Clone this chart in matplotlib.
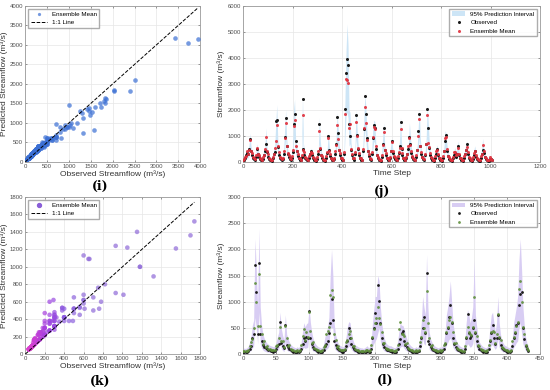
import numpy as np
import matplotlib
matplotlib.use("Agg")
import matplotlib.pyplot as plt
from matplotlib.colors import LinearSegmentedColormap

# ---- panel (j): time series, sampled every 4 time steps ----
step_j = 4
obs_j = [60, 90, 150, 250, 350, 300, 480, 870, 420, 250,
         150, 100, 70, 200, 480, 300, 180, 110, 70, 60,
         120, 250, 400, 700, 380, 200, 120, 80, 60, 50,
         140, 300, 380, 1580, 1600, 560, 280, 160, 100, 70,
         120, 300, 950, 1700, 600, 320, 180, 110, 70, 150,
         380, 1450, 1850, 820, 400, 220, 130, 80, 60, 200,
         2400, 500, 280, 160, 100, 70, 60, 150, 300, 420,
         250, 150, 90, 60, 50, 120, 300, 1470, 500, 260,
         150, 90, 60, 50, 150, 350, 1000, 450, 220, 130,
         80, 60, 100, 300, 700, 1720, 1100, 450, 250, 140,
         90, 60, 300, 2020, 3430, 3950, 3730, 1450, 1010, 450,
         250, 140, 80, 300, 1800, 1040, 500, 260, 140, 80,
         60, 400, 1250, 2520, 1830, 900, 400, 220, 120, 70,
         300, 900, 1420, 1300, 500, 260, 140, 80, 60, 50,
         200, 700, 1320, 450, 250, 140, 80, 60, 150, 400,
         800, 350, 200, 120, 70, 60, 150, 350, 600, 1520,
         500, 260, 140, 80, 60, 130, 300, 500, 950, 700,
         350, 200, 110, 70, 60, 200, 450, 1180, 1830, 600,
         300, 170, 100, 70, 250, 700, 2030, 1310, 550, 280,
         150, 90, 60, 50, 150, 300, 500, 250, 140, 80,
         60, 50, 150, 400, 800, 1030, 400, 220, 120, 70,
         60, 50, 130, 280, 350, 200, 300, 600, 250, 130,
         80, 60, 50, 150, 300, 450, 700, 300, 160, 90,
         60, 50, 120, 250, 400, 200, 120, 70, 50, 40,
         150, 300, 450, 350, 180, 100, 60, 50, 40, 120,
         100, 60]
pred_j = [90, 110, 200, 240, 420, 300, 450, 850, 400, 330,
          170, 150, 100, 260, 520, 320, 260, 130, 100, 90,
          170, 260, 480, 960, 400, 290, 140, 120, 90, 80,
          200, 300, 520, 820, 1400, 600, 380, 180, 150, 100,
          150, 400, 900, 1500, 620, 340, 260, 130, 100, 210,
          450, 1380, 1620, 600, 420, 300, 150, 130, 90, 280,
          1820, 450, 360, 180, 150, 100, 90, 220, 300, 380,
          330, 170, 140, 90, 80, 170, 400, 1200, 550, 280,
          220, 110, 90, 80, 220, 360, 900, 420, 300, 150,
          110, 90, 150, 400, 650, 1400, 880, 460, 330, 160,
          130, 90, 380, 1850, 3170, 3150, 3050, 1300, 1470, 500,
          320, 160, 130, 370, 1550, 1000, 520, 340, 160, 130,
          90, 480, 1300, 2100, 1500, 850, 420, 300, 140, 120,
          380, 950, 1350, 1250, 600, 280, 200, 110, 90, 80,
          260, 650, 1130, 470, 330, 160, 130, 90, 200, 420,
          770, 430, 220, 170, 100, 90, 210, 360, 550, 1280,
          520, 330, 160, 130, 90, 190, 320, 600, 900, 650,
          420, 220, 160, 100, 90, 260, 460, 1000, 1650, 620,
          380, 190, 150, 100, 320, 680, 1820, 740, 560, 350,
          170, 130, 90, 80, 210, 400, 450, 320, 160, 130,
          90, 80, 210, 420, 900, 950, 480, 240, 170, 100,
          90, 80, 190, 360, 370, 280, 320, 550, 320, 150,
          130, 90, 80, 210, 320, 470, 560, 380, 180, 130,
          90, 80, 170, 330, 420, 280, 140, 120, 80, 70,
          210, 320, 640, 420, 200, 150, 90, 80, 70, 170,
          120, 90]
hi_j = [180, 200, 280, 380, 480, 450, 650, 1100, 600, 400,
        280, 220, 180, 330, 700, 480, 320, 230, 180, 170,
        240, 400, 600, 1300, 580, 350, 240, 180, 170, 160,
        270, 450, 650, 1500, 2200, 900, 450, 290, 210, 180,
        260, 480, 1300, 2000, 900, 500, 320, 220, 180, 280,
        600, 2000, 2400, 900, 620, 370, 250, 200, 170, 350,
        2500, 700, 450, 290, 210, 180, 170, 280, 450, 520,
        400, 280, 200, 170, 160, 240, 480, 1700, 800, 420,
        280, 200, 170, 160, 280, 520, 1100, 620, 370, 250,
        200, 170, 210, 480, 950, 1900, 1300, 680, 400, 260,
        200, 170, 480, 2600, 4300, 5300, 4500, 2000, 1900, 750,
        400, 260, 200, 480, 2000, 1400, 750, 420, 260, 200,
        170, 620, 1700, 2600, 2100, 1200, 620, 370, 240, 180,
        480, 1300, 1600, 1550, 750, 420, 260, 200, 170, 160,
        350, 950, 1500, 700, 420, 260, 200, 170, 280, 620,
        900, 550, 350, 240, 180, 170, 280, 520, 800, 1700,
        750, 420, 260, 200, 170, 250, 480, 750, 1500, 950,
        550, 350, 230, 180, 170, 350, 680, 1400, 2000, 900,
        480, 300, 220, 180, 420, 950, 2200, 1500, 800, 450,
        280, 200, 170, 160, 280, 480, 650, 420, 260, 200,
        170, 160, 280, 620, 1200, 1100, 620, 370, 240, 180,
        170, 160, 260, 450, 550, 350, 480, 800, 420, 260,
        200, 170, 160, 280, 480, 680, 800, 480, 300, 200,
        170, 160, 250, 420, 620, 350, 240, 180, 160, 150,
        280, 480, 900, 550, 320, 220, 170, 160, 150, 250,
        220, 170]
lo_j = [20, 30, 60, 100, 150, 140, 220, 450, 180, 100,
        60, 40, 30, 80, 250, 140, 80, 50, 30, 30,
        50, 110, 200, 500, 180, 90, 50, 30, 30, 20,
        60, 130, 200, 400, 800, 280, 130, 70, 40, 30,
        60, 150, 450, 900, 300, 150, 80, 50, 30, 70,
        180, 800, 900, 300, 200, 100, 60, 40, 30, 90,
        1100, 200, 130, 70, 40, 30, 30, 70, 130, 160,
        120, 70, 40, 30, 30, 60, 150, 700, 280, 130,
        70, 40, 30, 30, 70, 170, 500, 200, 100, 60,
        40, 30, 50, 150, 300, 800, 450, 200, 110, 60,
        40, 30, 150, 1000, 1800, 1900, 1700, 600, 700, 230,
        120, 60, 40, 150, 900, 500, 250, 130, 60, 40,
        30, 200, 700, 1300, 800, 400, 200, 100, 60, 40,
        150, 450, 800, 700, 250, 130, 60, 40, 30, 30,
        90, 300, 600, 200, 120, 60, 40, 30, 70, 200,
        400, 170, 90, 60, 40, 30, 70, 170, 250, 700,
        250, 130, 70, 40, 30, 60, 150, 250, 400, 300,
        170, 90, 50, 40, 30, 90, 200, 500, 900, 280,
        150, 80, 50, 40, 120, 300, 900, 500, 250, 130,
        70, 40, 30, 30, 70, 150, 200, 120, 70, 40,
        30, 30, 70, 200, 450, 500, 200, 100, 60, 40,
        30, 30, 60, 130, 170, 90, 150, 250, 120, 60,
        40, 30, 30, 70, 150, 220, 250, 150, 80, 40,
        30, 30, 60, 120, 200, 90, 60, 40, 30, 30,
        70, 150, 300, 170, 90, 50, 30, 30, 30, 60,
        50, 30]

# ---- panel (l): time series, sampled every 2 time steps ----
step_l = 2
obs_l = [40, 35, 35, 40, 60, 100, 160, 300, 380, 1700,
         1180, 380, 1740, 380, 250, 180, 140, 110, 90, 80,
         70, 60, 55, 50, 60, 100, 150, 200, 610, 220,
         160, 120, 560, 180, 140, 100, 80, 60, 50, 45,
         40, 50, 40, 60, 100, 200, 300, 250, 320, 300,
         820, 300, 200, 140, 100, 80, 60, 50, 45, 40,
         50, 80, 150, 200, 250, 400, 600, 1050, 650, 250,
         180, 120, 90, 70, 60, 50, 50, 80, 150, 250,
         490, 300, 200, 130, 90, 70, 60, 50, 45, 40,
         40, 35, 40, 50, 60, 40, 50, 100, 300, 500,
         780, 600, 1320, 1010, 600, 300, 200, 140, 100, 80,
         70, 60, 60, 50, 45, 40, 50, 100, 200, 290,
         400, 450, 250, 180, 130, 100, 80, 60, 50, 40,
         40, 50, 40, 60, 150, 300, 500, 700, 400, 1550,
         250, 200, 130, 100, 80, 60, 50, 45, 40, 50,
         40, 60, 100, 200, 400, 500, 700, 930, 600, 300,
         200, 130, 100, 80, 60, 50, 45, 40, 100, 300,
         760, 400, 300, 350, 500, 660, 400, 250, 150, 100,
         80, 60, 50, 45, 40, 50, 100, 250, 400, 560,
         300, 200, 300, 750, 300, 180, 120, 90, 70, 60,
         50, 45, 40, 60, 150, 300, 400, 560, 600, 930,
         1150, 1180, 500, 280, 150, 90, 60]
pred_l = [60, 55, 55, 60, 80, 150, 230, 280, 500, 1360,
          1000, 530, 1520, 530, 380, 200, 250, 130, 160, 100,
          90, 80, 75, 70, 80, 160, 170, 300, 520, 250,
          250, 140, 540, 300, 160, 170, 100, 80, 70, 65,
          60, 70, 60, 80, 170, 350, 480, 270, 420, 320,
          800, 450, 220, 230, 120, 100, 80, 70, 65, 60,
          70, 130, 170, 380, 450, 520, 1130, 1220, 1090, 380,
          260, 140, 160, 90, 80, 70, 70, 100, 230, 270,
          380, 450, 300, 150, 160, 90, 80, 70, 65, 60,
          60, 55, 60, 70, 80, 60, 70, 180, 320, 470,
          600, 680, 890, 680, 580, 420, 220, 220, 120, 100,
          90, 80, 80, 70, 65, 60, 70, 170, 470, 620,
          380, 380, 350, 200, 220, 120, 100, 80, 70, 60,
          60, 70, 60, 80, 230, 320, 650, 500, 420, 1210,
          600, 300, 150, 170, 100, 80, 70, 65, 60, 70,
          60, 80, 180, 220, 420, 520, 650, 700, 620, 420,
          220, 220, 120, 100, 80, 70, 65, 60, 160, 320,
          520, 420, 380, 370, 520, 1090, 420, 350, 170, 150,
          100, 80, 70, 65, 60, 70, 170, 270, 420, 450,
          420, 220, 380, 760, 320, 260, 140, 110, 90, 80,
          70, 65, 60, 80, 250, 320, 420, 530, 620, 1240,
          1400, 1000, 520, 380, 170, 110, 80]
hi_l = [120, 110, 110, 120, 160, 230, 330, 550, 650, 2200,
        1600, 900, 2400, 900, 550, 380, 300, 250, 210, 190,
        170, 160, 150, 140, 160, 230, 330, 420, 800, 480,
        350, 270, 750, 380, 300, 230, 190, 160, 140, 130,
        120, 140, 120, 160, 230, 420, 600, 520, 580, 600,
        900, 600, 420, 300, 230, 190, 160, 140, 130, 120,
        140, 190, 330, 420, 520, 700, 1500, 2000, 1500, 580,
        380, 270, 210, 170, 160, 140, 140, 190, 330, 520,
        620, 600, 420, 290, 210, 170, 160, 140, 130, 120,
        120, 110, 120, 140, 160, 120, 140, 230, 600, 850,
        1100, 1100, 1500, 1400, 900, 600, 420, 300, 230, 190,
        170, 160, 160, 140, 130, 120, 140, 230, 420, 600,
        550, 550, 480, 380, 290, 230, 190, 160, 140, 120,
        120, 140, 120, 160, 330, 600, 1100, 900, 750, 1900,
        900, 420, 290, 230, 190, 160, 140, 130, 120, 140,
        120, 160, 230, 420, 750, 900, 1100, 1400, 1000, 600,
        420, 290, 230, 190, 160, 140, 130, 120, 230, 600,
        850, 750, 600, 700, 900, 1800, 750, 520, 330, 230,
        190, 160, 140, 130, 120, 140, 230, 520, 750, 800,
        600, 420, 600, 1100, 600, 380, 270, 210, 170, 160,
        140, 130, 120, 160, 330, 600, 750, 900, 1100, 1800,
        2200, 1600, 900, 550, 330, 210, 160]
lo_l = [20, 20, 20, 20, 30, 50, 70, 120, 150, 700,
        500, 200, 800, 200, 120, 80, 60, 50, 40, 40,
        30, 30, 30, 30, 30, 50, 70, 90, 250, 100,
        70, 50, 250, 80, 60, 50, 40, 30, 30, 30,
        20, 30, 20, 30, 50, 90, 130, 110, 120, 130,
        400, 130, 90, 60, 50, 40, 30, 30, 30, 20,
        30, 40, 70, 90, 110, 150, 500, 500, 500, 120,
        80, 60, 40, 30, 30, 30, 30, 40, 70, 110,
        150, 130, 90, 60, 40, 30, 30, 30, 30, 20,
        20, 20, 20, 30, 30, 20, 30, 50, 130, 200,
        250, 300, 400, 500, 250, 130, 90, 60, 50, 40,
        30, 30, 30, 30, 30, 20, 30, 50, 90, 130,
        150, 150, 110, 80, 60, 50, 40, 30, 30, 20,
        20, 30, 20, 30, 70, 130, 300, 200, 170, 500,
        250, 90, 60, 50, 40, 30, 30, 30, 20, 30,
        20, 30, 50, 90, 170, 220, 280, 300, 250, 130,
        90, 60, 50, 40, 30, 30, 30, 20, 50, 130,
        200, 170, 130, 150, 200, 400, 170, 110, 70, 50,
        40, 30, 30, 30, 20, 30, 50, 110, 170, 180,
        130, 90, 130, 300, 130, 80, 60, 40, 40, 30,
        30, 30, 20, 30, 70, 130, 170, 220, 250, 500,
        600, 400, 200, 120, 70, 40, 30]

obs_j, pred_j, hi_j, lo_j = map(np.array, (obs_j, pred_j, hi_j, lo_j))
obs_l, pred_l, hi_l, lo_l = map(np.array, (obs_l, pred_l, hi_l, lo_l))
t_j = np.arange(len(obs_j)) * step_j
t_l = np.arange(len(obs_l)) * step_l

plt.rcParams['font.family'] = ['Liberation Sans', 'DejaVu Sans']
TICK = 4.3
LAB = 6
GRID = '#e6e6e6'
TCOL = '#4d4d4d'


def style(ax, xlim, xticks, ylim, yticks, xlabel, ylabel):
    ax.set_xlim(*xlim)
    ax.set_ylim(*ylim)
    ax.set_xticks(xticks)
    ax.set_yticks(yticks)
    ax.tick_params(labelsize=TICK, colors=TCOL, length=1.5, width=0.4, pad=1.5,
                   direction='in', top=True, right=True)
    ax.grid(True, color=GRID, lw=0.5)
    ax.set_axisbelow(True)
    for s in ax.spines.values():
        s.set_color('#9a9a9a')
        s.set_linewidth(0.6)
    ax.set_xlabel(xlabel, fontsize=LAB, color='#333333', labelpad=1)
    ax.set_ylabel(ylabel, fontsize=LAB, color='#333333', labelpad=1.5)


fig = plt.figure(figsize=(5.5, 3.9), dpi=100)
ax_i = fig.add_axes([0.046, 0.585, 0.318, 0.400])
ax_j = fig.add_axes([0.442, 0.585, 0.540, 0.400])
ax_k = fig.add_axes([0.046, 0.092, 0.318, 0.403])
ax_l = fig.add_axes([0.442, 0.092, 0.540, 0.403])

# (i) scatter
ax_i.scatter(obs_j, pred_j, s=11, color='#3b6fd4', alpha=0.7, lw=0,
             label='Ensemble Mean', zorder=3)
ax_i.plot([0, obs_j.max()], [0, obs_j.max()], 'k--', lw=0.7, label='1:1 Line', zorder=4)
style(ax_i, (0, 4000), range(0, 4001, 500), (0, 4000), range(0, 4001, 500),
      'Observed Streamflow (m³/s)', 'Predicted Streamflow (m³/s)')
ax_i.legend(loc='upper left', fontsize=4.5, frameon=True, fancybox=False,
            edgecolor='#999999', borderpad=0.4, handlelength=2.5, markerscale=0.7)

# (k) scatter
cmap = LinearSegmentedColormap.from_list('pm', ['#e040d0', '#a040e0', '#8c5ee0', '#8f6ad8'])
ax_k.scatter(obs_l, pred_l, s=11, c=np.minimum(obs_l, 600), cmap=cmap, alpha=0.7, lw=0,
             zorder=3)
ax_k.scatter([], [], s=8, color='#8a5ed8', label='Ensemble Mean')
ax_k.plot([0, obs_l.max()], [0, obs_l.max()], 'k--', lw=0.7, label='1:1 Line', zorder=4)
style(ax_k, (0, 1800), range(0, 1801, 200), (0, 1800), range(0, 1801, 200),
      'Observed Streamflow (m³/s)', 'Predicted Streamflow (m³/s)')
ax_k.legend(loc='upper left', fontsize=4.5, frameon=True, fancybox=False,
            edgecolor='#999999', borderpad=0.4, handlelength=2.5)

# (j) time series
ax_j.fill_between(t_j, lo_j, hi_j, color='#cde5f6', lw=0, label='95% Prediction Interval')
ax_j.plot(t_j, obs_j, 'o', color='#1a1a1a', ms=2.2, mew=0, label='Observed', zorder=3)
ax_j.plot(t_j, pred_j, 'o', color='#e0303c', ms=2.2, mew=0, alpha=0.9,
          label='Ensemble Mean', zorder=4)
style(ax_j, (0, 1200), range(0, 1201, 200), (0, 6000), range(0, 6001, 1000),
      'Time Step', 'Streamflow (m³/s)')
ax_j.legend(loc='upper right', fontsize=4.5, frameon=True, fancybox=False,
            edgecolor='#999999', borderpad=0.4, handlelength=2.2)

# (l) time series
ax_l.fill_between(t_l, lo_l, hi_l, color='#d8cdf3', lw=0, label='95% Prediction Interval')
ax_l.plot(t_l, obs_l, 'o', color='#1a1a1a', ms=2.0, mew=0, label='Observed', zorder=3)
ax_l.plot(t_l, pred_l, 'o', color='#5f8f3c', ms=2.0, mew=0, alpha=0.9,
          label='Ensemble Mean', zorder=4)
style(ax_l, (0, 450), range(0, 451, 50), (0, 3000), range(0, 3001, 500),
      'Time Step', 'Streamflow (m³/s)')
ax_l.legend(loc='upper right', fontsize=4.5, frameon=True, fancybox=False,
            edgecolor='#999999', borderpad=0.4, handlelength=2.2)

# panel tags
for x, y, s in [(0.182, 0.523, '(i)'), (0.694, 0.510, '(j)'),
                (0.182, 0.023, '(k)'), (0.700, 0.025, '(l)')]:
    fig.text(x, y, s, ha='center', va='center', fontsize=9, fontweight='bold',
             family=['DejaVu Serif'])

fig.savefig('out.png', dpi=100)
